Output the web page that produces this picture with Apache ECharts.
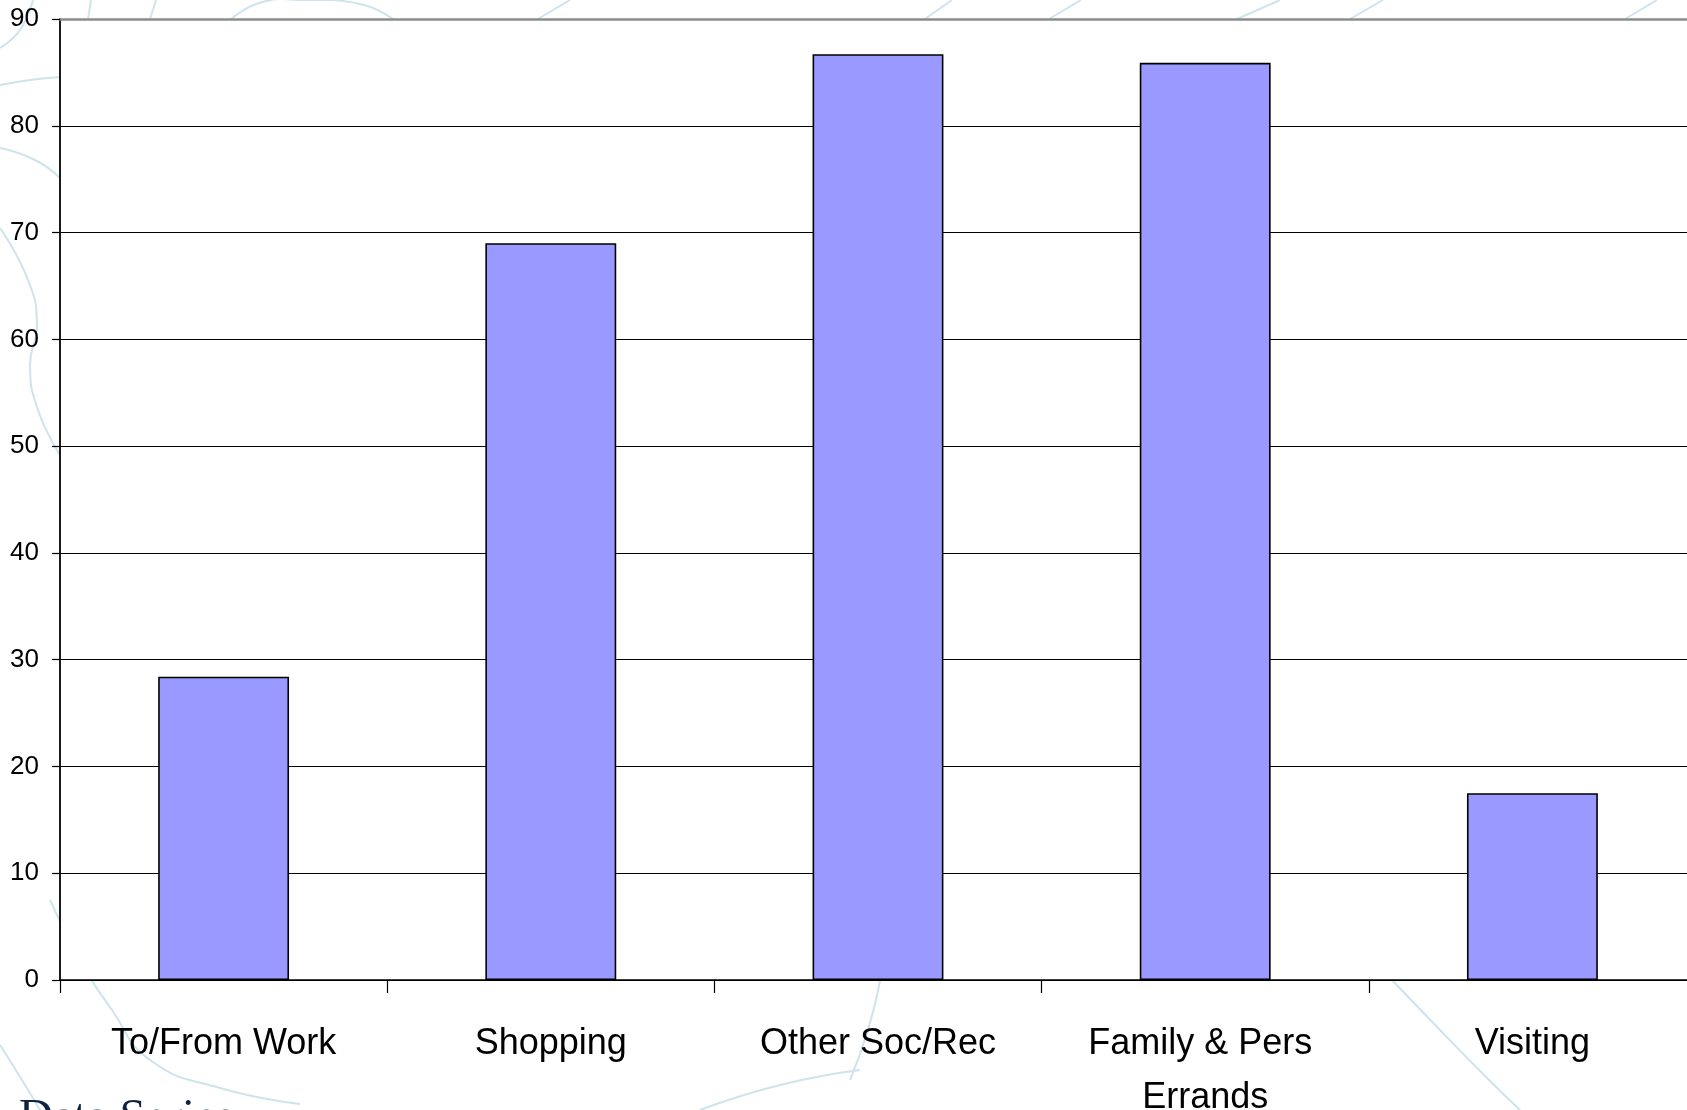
<!DOCTYPE html>
<html>
<head>
<meta charset="utf-8">
<title>Trips by purpose</title>
<script src="https://cdn.jsdelivr.net/npm/echarts@6/dist/echarts.min.js"></script>
<style>
  html, body { margin: 0; padding: 0; background: #ffffff; overflow: hidden; width: 100%; height: 100%; }
  #chart { width: 1687px; height: 1110px; position: absolute; left: 0; top: 0; }
</style>
</head>
<body>
<div id="chart"></div>
<script>
// Trip purposes and their values
const categories = ['To/From Work', 'Shopping', 'Other Soc/Rec', 'Family & Pers Errands', 'Visiting'];
const values = [28.4, 69.0, 86.7, 85.9, 17.5];
const yTicks = [0, 10, 20, 30, 40, 50, 60, 70, 80, 90];
const footerText = 'Data Series';

const swirlColor = '#cde4ec';

// Faint background swirls of the slide template
function swirl(points) {
  return {
    type: 'polyline', z: -10, silent: true,
    shape: { points: points, smooth: 0.5 },
    style: { stroke: swirlColor, lineWidth: 2, fill: null }
  };
}
const swirls = [
  swirl([[0, 48], [20, 30], [33, 0]]),
  swirl([[0, 85], [30, 80], [60, 77]]),
  swirl([[0, 148], [35, 160], [60, 178]]),
  swirl([[0, 228], [28, 280], [37, 325], [30, 365], [38, 410], [60, 455]]),
  swirl([[88, 19], [91, 0]]),
  swirl([[150, 19], [156, 0]]),
  swirl([[231, 19], [262, 2], [300, 0], [360, 4], [393, 19]]),
  swirl([[538, 19], [570, 0]]),
  swirl([[925, 19], [952, 0]]),
  swirl([[1049, 19], [1081, 0]]),
  swirl([[1237, 19], [1280, 0]]),
  swirl([[1350, 19], [1383, 0]]),
  swirl([[1625, 19], [1657, 0]]),
  swirl([[50, 900], [80, 960], [112, 1010], [150, 1060], [220, 1088], [300, 1104]]),
  swirl([[0, 1045], [22, 1080], [40, 1110]]),
  swirl([[880, 981], [868, 1030], [850, 1080]]),
  swirl([[1393, 981], [1440, 1030], [1485, 1076], [1520, 1110]]),
  swirl([[700, 1110], [780, 1085], [860, 1070]])
];

const chart = echarts.init(document.getElementById('chart'), null, { renderer: 'canvas', width: 1687, height: 1110 });

chart.setOption({
  backgroundColor: '#ffffff',
  animation: false,
  grid: {
    left: 60,
    top: 19,
    width: 1636,
    height: 961,
    show: true,
    backgroundColor: '#ffffff',
    borderWidth: 0,
    containLabel: false,
    outerBoundsMode: 'none'
  },
  xAxis: [
    {
      type: 'category',
      data: categories,
      position: 'bottom',
      axisLine: { show: true, lineStyle: { color: '#000000', width: 1.5 } },
      axisTick: { show: true, alignWithLabel: false, length: 13, lineStyle: { color: '#000000', width: 1.2 } },
      axisLabel: {
        interval: 0,
        margin: 37,
        color: '#000000',
        fontFamily: 'Liberation Sans, Arial, sans-serif',
        fontSize: 36,
        lineHeight: 54,
        width: 300,
        overflow: 'break',
        align: 'center'
      },
      splitLine: { show: false }
    },
    {
      // plot area top edge
      type: 'category',
      data: categories,
      position: 'top',
      axisLine: { show: true, lineStyle: { color: '#8c8c8c', width: 2.5 } },
      axisTick: { show: false },
      axisLabel: { show: false },
      splitLine: { show: false }
    }
  ],
  yAxis: {
    type: 'value',
    min: yTicks[0],
    max: yTicks[yTicks.length - 1],
    interval: yTicks[1] - yTicks[0],
    axisLine: { show: true, lineStyle: { color: '#1a1a1a', width: 2 } },
    axisTick: { show: true, inside: false, length: 8, lineStyle: { color: '#000000', width: 1.2 } },
    axisLabel: {
      margin: 21,
      color: '#000000',
      fontFamily: 'Liberation Sans, Arial, sans-serif',
      fontSize: 26
    },
    splitLine: { show: true, lineStyle: { color: '#000000', width: 1.2 } }
  },
  series: [
    {
      type: 'bar',
      xAxisIndex: 0,
      data: values,
      barWidth: '40%',
      itemStyle: {
        color: '#9999ff',
        borderColor: '#000000',
        borderWidth: 1.6
      },
      z: 3
    }
  ],
  graphic: swirls.concat([
    {
      type: 'text',
      left: 19,
      top: 1095,
      z: 10,
      style: {
        text: footerText,
        fill: '#0f2240',
        font: '47px "Liberation Serif", "Times New Roman", serif'
      }
    }
  ])
});
</script>
</body>
</html>
